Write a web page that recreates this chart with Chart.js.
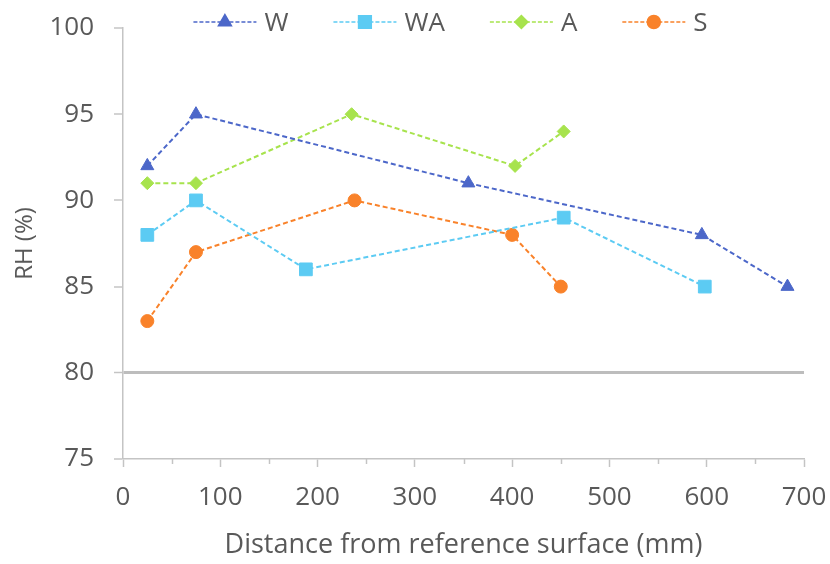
<!DOCTYPE html>
<html>
<head>
<meta charset="utf-8">
<script src="https://cdn.jsdelivr.net/npm/chart.js@4.4.0/dist/chart.umd.min.js"></script>
<style>
  html, body { margin: 0; padding: 0; background: #fff; }
  #wrap { width: 830px; height: 564px; }
</style>
</head>
<body>
<div id="wrap"><canvas id="c" width="830" height="564"></canvas></div>
<script>
// distance (mm) and RH (%) per series
const wX  = [25, 75, 355, 595, 683];
const wY  = [92, 95, 91, 88, 85];
const waX = [25, 75, 188, 453, 598];
const waY = [88, 90, 86, 89, 85];
const aX  = [25, 75, 235, 403, 453];
const aY  = [91, 91, 95, 92, 94];
const sX  = [25, 75, 238, 400, 450];
const sY  = [83, 87, 90, 88, 85];

const xTicks = [0, 100, 200, 300, 400, 500, 600, 700];
const yTicks = [75, 80, 85, 90, 95, 100];

const FONT = "'Open Sans', 'Noto Sans', sans-serif";
const TEXT = '#595959';
const AXIS = '#c4c4c4';

const pts = (xs, ys) => xs.map((x, i) => ({ x: x, y: ys[i] }));

function series(label, xs, ys, color, style, radius) {
  return {
    label: label,
    data: pts(xs, ys),
    showLine: true,
    borderColor: color,
    backgroundColor: color,
    borderWidth: 2,
    borderDash: [5, 3],
    pointStyle: style,
    pointRadius: radius,
    pointHoverRadius: radius,
    pointBorderWidth: 1,
    pointBorderColor: color
  };
}

// legend: dashed line with the marker in the middle, then the label
const lineLegend = {
  id: 'lineLegend',
  afterDraw(chart) {
    const ctx = chart.ctx;
    const sets = chart.data.datasets;
    const lineW = 63, gapText = 8, gapItem = 45;
    ctx.save();
    ctx.font = '26px ' + FONT;
    let total = 0;
    sets.forEach((d, i) => {
      total += lineW + gapText + ctx.measureText(d.label).width + (i < sets.length - 1 ? gapItem : 0);
    });
    const area = chart.chartArea;
    let x = (area.left + area.right) / 2 - 13 - total / 2;
    const y = 22;
    sets.forEach(d => {
      ctx.setLineDash([4, 2]);
      ctx.lineWidth = 1.5;
      ctx.strokeStyle = d.borderColor;
      ctx.beginPath();
      ctx.moveTo(x, y);
      ctx.lineTo(x + lineW, y);
      ctx.stroke();
      ctx.setLineDash([]);
      ctx.fillStyle = d.backgroundColor;
      Chart.helpers.drawPoint(ctx, {
        pointStyle: d.pointStyle,
        radius: d.pointRadius,
        borderWidth: 1,
        rotation: 0
      }, x + lineW / 2, y);
      ctx.fillStyle = TEXT;
      ctx.textBaseline = 'middle';
      ctx.textAlign = 'left';
      ctx.fillText(d.label, x + lineW + gapText, y + 2);
      x += lineW + gapText + ctx.measureText(d.label).width + gapItem;
    });
    ctx.restore();
  }
};

// minor tick marks halfway between labelled x ticks
const minorTicks = {
  id: 'minorTicks',
  afterDraw(chart) {
    const xs = chart.scales.x;
    const ctx = chart.ctx;
    const bottom = chart.chartArea.bottom;
    ctx.save();
    ctx.strokeStyle = AXIS;
    ctx.lineWidth = 1.5;
    for (let i = 0; i < xTicks.length - 1; i++) {
      const px = Math.round(xs.getPixelForValue((xTicks[i] + xTicks[i + 1]) / 2)) + 0.5;
      ctx.beginPath();
      ctx.moveTo(px, bottom);
      ctx.lineTo(px, bottom + 5);
      ctx.stroke();
    }
    ctx.restore();
  }
};

new Chart(document.getElementById('c'), {
  type: 'scatter',
  data: {
    datasets: [
      series('W', wX, wY, '#4C67C9', 'triangle', 7.5),
      series('WA', waX, waY, '#5CCBF3', 'rect', 9),
      series('A', aX, aY, '#A7E34D', 'rectRot', 6.5),
      series('S', sX, sY, '#F9822A', 'circle', 6.5)
    ]
  },
  options: {
    responsive: false,
    animation: false,
    layout: { padding: { left: 0, right: 26, top: 28, bottom: 0 } },
    plugins: {
      legend: { display: false },
      tooltip: { enabled: false }
    },
    scales: {
      x: {
        type: 'linear',
        min: xTicks[0],
        max: xTicks[xTicks.length - 1],
        afterBuildTicks: s => { s.ticks = xTicks.map(v => ({ value: v })); },
        afterFit: s => { s.height = 105; s.paddingLeft = 0; s.paddingRight = 0; },
        border: { display: true, color: AXIS, width: 1.5 },
        grid: { drawOnChartArea: false, tickLength: 8, tickColor: AXIS, tickWidth: 1.5 },
        ticks: { color: TEXT, font: { family: FONT, size: 26 }, padding: 15 },
        title: {
          display: true,
          text: 'Distance from reference surface (mm)',
          color: TEXT,
          font: { family: FONT, size: 27 },
          padding: { top: 0, bottom: 2 }
        }
      },
      y: {
        min: yTicks[0],
        max: yTicks[yTicks.length - 1],
        afterBuildTicks: s => { s.ticks = yTicks.map(v => ({ value: v })); },
        afterFit: s => { s.width = 123; s.paddingTop = 0; s.paddingBottom = 0; },
        border: { display: true, color: AXIS, width: 1.5 },
        grid: {
          drawOnChartArea: true,
          color: c => (c.tick && c.tick.value === 80 ? '#bdbdbd' : 'rgba(0,0,0,0)'),
          lineWidth: c => (c.tick && c.tick.value === 80 ? 3 : 0),
          tickLength: 9,
          tickColor: AXIS,
          tickWidth: 1.5
        },
        ticks: { color: TEXT, font: { family: FONT, size: 26 }, padding: 20 },
        title: {
          display: true,
          text: 'RH (%)',
          color: TEXT,
          font: { family: FONT, size: 24 },
          padding: { top: 11, bottom: 0 }
        }
      }
    }
  },
  plugins: [lineLegend, minorTicks]
});
</script>
</body>
</html>
